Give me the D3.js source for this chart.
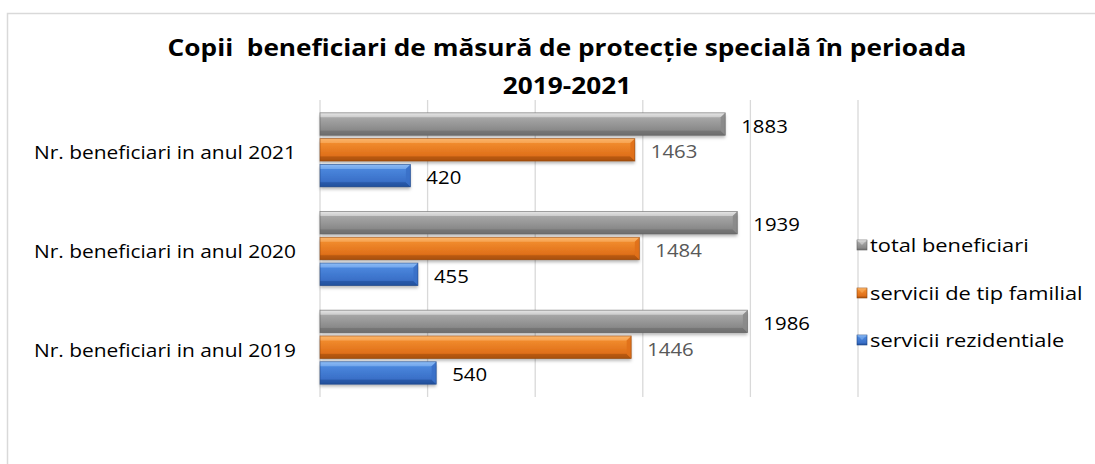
<!DOCTYPE html>
<html>
<head>
<meta charset="utf-8">
<script src="https://cdn.jsdelivr.net/npm/d3@7"></script>
<style>
  html, body { margin: 0; padding: 0; background: #fff; }
  svg { display: block; }
  text { font-family: "Open Sans", "Liberation Sans", sans-serif; white-space: pre; }
</style>
</head>
<body>
<svg id="chart" width="1095" height="464"></svg>
<script>
// ---- data ----
const categories = ["Nr. beneficiari in anul 2021", "Nr. beneficiari in anul 2020", "Nr. beneficiari in anul 2019"];
const seriesNames = ["total beneficiari", "servicii de tip familial", "servicii rezidentiale"];
const totalBeneficiari = [1883, 1939, 1986];
const serviciiFamilial = [1463, 1484, 1446];
const serviciiRezidentiale = [420, 455, 540];
const xTicks = [0, 500, 1000, 1500, 2000, 2500];
const titleLines = ["Copii  beneficiari de măsură de protecție specială în perioada", "2019-2021"];

const seriesValues = [totalBeneficiari, serviciiFamilial, serviciiRezidentiale];

// ---- styles ----
const palettes = [
  { top: "#e6e6e6", mid: "#a6a6a6", low: "#8a8a8a", bot: "#6e6e6e", edge: "#5f5f5f", label: "#000000", key: "g" },
  { top: "#fbb56a", mid: "#f08a2c", low: "#e0701a", bot: "#a9500d", edge: "#8e430b", label: "#595959", key: "o" },
  { top: "#8dbcf6", mid: "#4a86dc", low: "#3a70c8", bot: "#22509c", edge: "#1c4382", label: "#000000", key: "b" }
];

const svg = d3.select("#chart");
const W = 1095, H = 464;
svg.append("rect").attr("width", W).attr("height", H).attr("fill", "#fff");

// chart border
svg.append("path")
  .attr("d", `M7.5,${H} L7.5,13.5 L${W},13.5`)
  .attr("fill", "none").attr("stroke", "#d9d9d9").attr("stroke-width", 1.5);

const defs = svg.append("defs");
palettes.forEach(p => {
  const g = defs.append("linearGradient").attr("id", "grad-" + p.key)
    .attr("x1", 0).attr("y1", 0).attr("x2", 0).attr("y2", 1);
  g.append("stop").attr("offset", "0%").attr("stop-color", p.top);
  g.append("stop").attr("offset", "22%").attr("stop-color", p.mid);
  g.append("stop").attr("offset", "75%").attr("stop-color", p.low);
  g.append("stop").attr("offset", "100%").attr("stop-color", p.bot);
});
const f = defs.append("filter").attr("id", "shadow").attr("x", "-5%").attr("y", "-30%").attr("width", "110%").attr("height", "180%");
f.append("feDropShadow").attr("dx", 0).attr("dy", 2.5).attr("stdDeviation", 1.8)
  .attr("flood-color", "#000").attr("flood-opacity", 0.28);

function stretch(sx) {
  return sel => sel.each(function() {
    const w = this.getComputedTextLength();
    d3.select(this).attr("textLength", w * sx).attr("lengthAdjust", "spacingAndGlyphs");
  });
}

// ---- title ----
const title = svg.append("text").attr("text-anchor", "middle")
  .attr("font-weight", "bold").attr("font-size", 23).attr("fill", "#000");
title.append("tspan").attr("x", 567).attr("y", 56).text(titleLines[0]);
title.append("tspan").attr("x", 567).attr("y", 94).text(titleLines[1]);
title.selectAll("tspan").call(stretch(1.14));

// ---- scales ----
const x = d3.scaleLinear().domain([0, 2500]).range([320, 858]);
const y = d3.scaleBand().domain(categories).range([100, 397]).paddingInner(0.25).paddingOuter(0.13);
const ys = d3.scaleBand().domain(seriesNames).range([0, y.bandwidth()]).paddingInner(0.13).paddingOuter(0);

// gridlines
svg.append("g").selectAll("line").data(xTicks).join("line")
  .attr("x1", d => x(d)).attr("x2", d => x(d))
  .attr("y1", 100).attr("y2", 397)
  .attr("stroke", "#d9d9d9").attr("stroke-width", 1.3);

// category labels
svg.append("g").selectAll("text").data(categories).join("text")
  .attr("x", 296).attr("y", d => y(d) + y.bandwidth() / 2 + 3)
  .attr("dy", "0.35em").attr("text-anchor", "end")
  .attr("font-size", 18.5).attr("fill", "#000")
  .text(d => d)
  .call(stretch(1.13));

// bars
const bv = 4.5;
seriesNames.forEach((s, si) => {
  const p = palettes[si];
  const g = svg.append("g");
  categories.forEach((c, ci) => {
    const v = seriesValues[si][ci];
    const x0 = x(0), x1 = x(v);
    const y0 = y(c) + ys(s), h = ys.bandwidth(), y1 = y0 + h;
    const bar = g.append("g");
    bar.append("rect").attr("x", x0).attr("y", y0).attr("width", x1 - x0).attr("height", h)
      .attr("fill", "url(#grad-" + p.key + ")").attr("filter", "url(#shadow)");
    bar.append("path").attr("d", `M${x0},${y0} L${x1},${y0} L${x1 - bv},${y0 + bv} L${x0},${y0 + bv}Z`)
      .attr("fill", p.top).attr("opacity", 0.55);
    bar.append("path").attr("d", `M${x0},${y1} L${x1},${y1} L${x1 - bv},${y1 - bv} L${x0},${y1 - bv}Z`)
      .attr("fill", p.bot).attr("opacity", 0.6);
    bar.append("path").attr("d", `M${x1},${y0} L${x1},${y1} L${x1 - bv},${y1 - bv} L${x1 - bv},${y0 + bv}Z`)
      .attr("fill", p.low).attr("opacity", 0.9);
    bar.append("rect").attr("x", x0).attr("y", y0).attr("width", x1 - x0).attr("height", h)
      .attr("fill", "none").attr("stroke", p.edge).attr("stroke-width", 0.8).attr("stroke-opacity", 0.7);
    g.append("text").attr("x", x1 + 16).attr("y", y0 + h / 2 + 2).attr("dy", "0.35em")
      .attr("font-size", 18.5).attr("fill", p.label).text(v)
      .call(stretch(1.1));
  });
});

// legend
const legendY = [245, 293, 340];
const lg = svg.append("g");
seriesNames.forEach((s, si) => {
  const p = palettes[si];
  const cy = legendY[si];
  lg.append("rect").attr("x", 857).attr("y", cy - 5).attr("width", 10).attr("height", 10)
    .attr("fill", "url(#grad-" + p.key + ")").attr("stroke", p.edge).attr("stroke-width", 0.6);
  lg.append("path").attr("d", `M857,${cy - 5} L867,${cy - 5} L862,${cy} Z`).attr("fill", p.top).attr("opacity", 0.5);
  lg.append("text").attr("x", 870).attr("y", cy + 1).attr("dy", "0.35em")
    .attr("font-size", 18.5).attr("fill", "#000").text(s).call(stretch(1.18));
});
</script>
</body>
</html>
